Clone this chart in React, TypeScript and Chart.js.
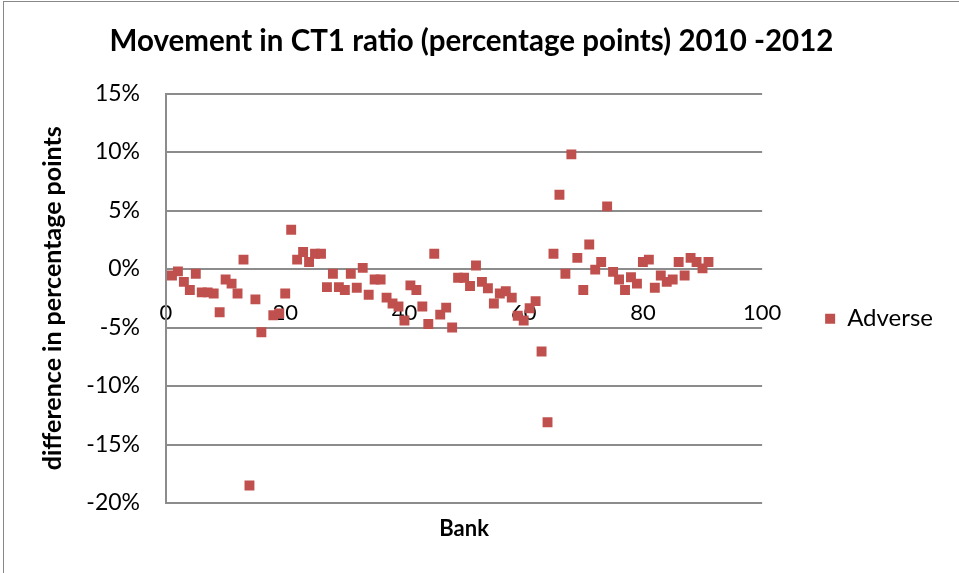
import React, { useEffect, useRef } from "react";
import { Chart, registerables } from "chart.js";

Chart.register(...registerables);

const chartTitle = "Movement in CT1 ratio (percentage points) 2010 -2012";
const xAxisTitle = "Bank";
const yAxisTitle = "difference in percentage points";
const seriesLabel = "Adverse";

const xTicks = [0, 20, 40, 60, 80, 100];
const yTicks = [-20, -15, -10, -5, 0, 5, 10, 15];

const bankIds = [
  1, 2, 3, 4, 5, 6, 7, 8, 9, 10, 11, 12, 13, 14, 15, 16, 18, 19, 20,
  21, 22, 23, 24, 25, 26, 27, 28, 29, 30, 31, 32, 33, 34, 35, 36, 37, 38, 39, 40,
  41, 42, 43, 44, 45, 46, 47, 48, 49, 50, 51, 52, 53, 54, 55, 56, 57, 58, 59, 60,
  61, 62, 63, 64, 65, 66, 67, 68, 69, 70, 71, 72, 73, 74, 75, 76, 77, 78, 79, 80,
  81, 82, 83, 84, 85, 86, 87, 88, 89, 90, 91,
];

// movement in percentage points
const adverse = [
  -0.55, -0.2, -1.1, -1.8, -0.4, -2.0, -2.0, -2.1, -3.7, -0.9, -1.25, -2.1, 0.8, -18.5, -2.6, -5.4, -3.95, -3.8, -2.1,
  3.35, 0.8, 1.45, 0.6, 1.3, 1.3, -1.55, -0.4, -1.55, -1.8, -0.4, -1.6, 0.1, -2.2, -0.9, -0.9, -2.45, -2.95, -3.2, -4.4,
  -1.4, -1.8, -3.2, -4.7, 1.3, -3.9, -3.3, -5.0, -0.75, -0.75, -1.45, 0.3, -1.1, -1.65, -2.95, -2.1, -1.9, -2.45, -4.0, -4.4,
  -3.35, -2.75, -7.05, -13.1, 1.3, 6.35, -0.4, 9.8, 0.95, -1.8, 2.1, -0.05, 0.6, 5.35, -0.25, -0.9, -1.8, -0.7, -1.25, 0.6,
  0.8, -1.6, -0.55, -1.1, -0.9, 0.6, -0.55, 0.95, 0.6, 0.05, 0.6,
];

const FONT = "Lato";
const GRID = "#8c8c8c";
const RED = "#C0504D";

const framePlugin = {
  id: "frame",
  beforeDraw(chart: any) {
    const ctx = chart.ctx;
    ctx.save();
    ctx.fillStyle = "#ffffff";
    ctx.fillRect(0, 0, chart.width, chart.height);
    ctx.strokeStyle = "#888888";
    ctx.lineWidth = 1;
    ctx.strokeRect(3.5, 1.5, 2000, 2000);
    ctx.restore();
  },
};

export default function App() {
  const ref = useRef<HTMLCanvasElement | null>(null);

  useEffect(() => {
    if (!ref.current) return;
    Chart.defaults.font.family = FONT;
    const chart = new Chart(ref.current, {
      type: "scatter",
      data: {
        datasets: [
          {
            label: seriesLabel,
            data: bankIds.map((b, i) => ({ x: b, y: adverse[i] })),
            backgroundColor: RED,
            borderColor: RED,
            borderWidth: 0,
            pointStyle: "rect",
            pointRadius: 7,
            pointHoverRadius: 7,
            xAxisID: "x",
            yAxisID: "y",
          },
        ],
      },
      options: {
        animation: false,
        responsive: true,
        maintainAspectRatio: false,
        layout: { padding: { left: 0, right: 16, top: 0, bottom: 0 } },
        plugins: {
          tooltip: { enabled: false },
          title: {
            display: true,
            text: chartTitle,
            color: "#000",
            font: { family: FONT, size: 29.5, weight: "bold" },
            padding: { top: 23.3, bottom: 34.8 },
          },
          legend: {
            display: true,
            position: "right",
            align: "center",
            title: { display: true, text: " ", padding: 25, font: { size: 12 } },
            labels: {
              usePointStyle: true,
              pointStyle: "rect",
              boxWidth: 10,
              boxHeight: 10,
              padding: 10,
              color: "#000",
              font: { family: FONT, size: 24 },
            },
          },
        },
        scales: {
          x: {
            type: "linear",
            position: { y: 0 } as any,
            min: xTicks[0],
            max: xTicks[xTicks.length - 1],
            afterBuildTicks: (s: any) => {
              s.ticks = xTicks.map((v) => ({ value: v }));
            },
            ticks: {
              color: "#000",
              font: { family: FONT, size: 22 },
              padding: 31,
              maxRotation: 0,
            },
            grid: { display: false, drawTicks: false },
            border: { display: false },
          },
          xb: {
            type: "linear",
            position: "bottom",
            axis: "x",
            min: 0,
            max: 100,
            ticks: { display: false },
            grid: { display: false, drawTicks: false },
            border: { display: false },
            title: {
              display: true,
              text: xAxisTitle,
              color: "#000",
              font: { family: FONT, size: 22, weight: "bold" },
              padding: { top: 0, bottom: 31 },
            },
            afterFit: (s: any) => {
              s.height = 70;
            },
          },
          y: {
            type: "linear",
            position: "left",
            min: yTicks[0],
            max: yTicks[yTicks.length - 1],
            afterBuildTicks: (s: any) => {
              s.ticks = yTicks.map((v) => ({ value: v }));
            },
            ticks: {
              color: "#000",
              font: { family: FONT, size: 23 },
              padding: 26,
              callback: (v: any) => `${v}%`,
            },
            grid: { color: GRID, lineWidth: 2, drawTicks: false },
            border: { display: true, color: GRID, width: 2 },
            title: {
              display: true,
              text: yAxisTitle,
              color: "#000",
              font: { family: FONT, size: 25, weight: "bold" },
              padding: { top: 37.5, bottom: 0 },
            },
            afterFit: (s: any) => {
              s.width = 166;
            },
          },
          yr: {
            type: "linear",
            position: "right",
            axis: "y",
            ticks: { display: false },
            grid: { display: false, drawTicks: false },
            border: { display: false },
            afterFit: (s: any) => {
              s.width = 53;
            },
          },
        },
      },
      plugins: [framePlugin],
    });
    return () => chart.destroy();
  }, []);

  return (
    <div style={{ position: "absolute", left: 0, top: 0, width: 959, height: 573 }}>
      <canvas ref={ref} />
    </div>
  );
}
